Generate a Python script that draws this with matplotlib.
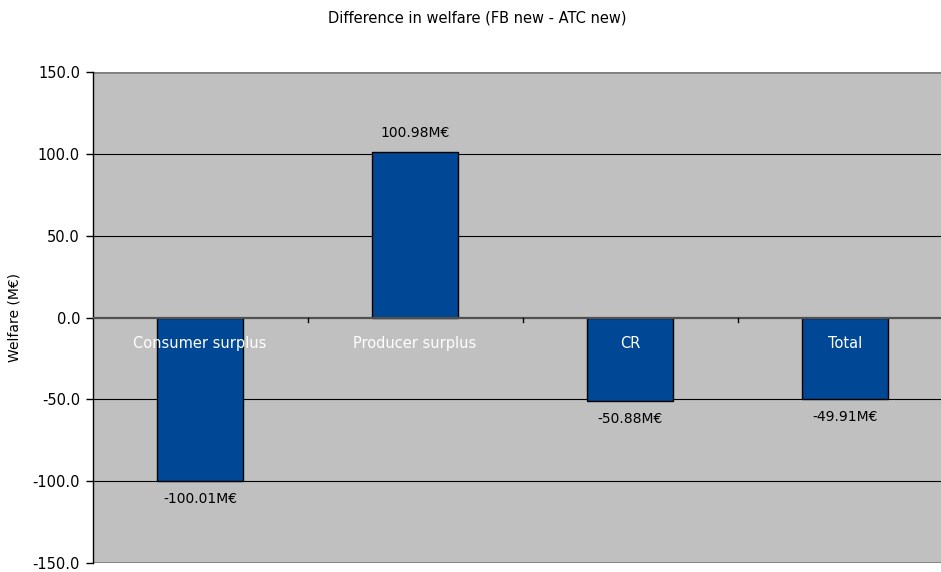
import matplotlib.pyplot as plt
import numpy as np

categories = ["Consumer surplus", "Producer surplus", "CR", "Total"]
values = [-100.01, 100.98, -50.88, -49.91]
yticks = [-150, -100, -50, 0, 50, 100, 150]

fig = plt.figure(figsize=(9.41, 5.72), dpi=100)
# plot area runs past the right edge of the image, as in the original
ax = fig.add_axes([92.5/941, 9/572, 860/941, 491/572])
ax.set_facecolor("#C0C0C0")

x = np.arange(len(categories))
ax.bar(x, values, width=0.4, color="#004795", edgecolor="black", linewidth=1, zorder=3)

ax.set_xlim(-0.5, len(categories) - 0.5)
ax.set_ylim(-150, 150)
ax.set_yticks(yticks)
ax.set_yticklabels(["%.1f" % v for v in yticks], fontsize=10.5)
ax.tick_params(axis="y", direction="out", length=5, width=1, pad=4)
ax.set_xticks([])

for v in [-100, -50, 50, 100]:
    ax.axhline(v, color="black", linewidth=0.8, zorder=1)
ax.axhline(150, color="#808080", linewidth=2, zorder=2)
ax.axhline(-150, color="#808080", linewidth=2, zorder=2)
ax.axhline(0, color="#505050", linewidth=1.6, zorder=4)
# small ticks on the zero line between categories
for b in x[:-1] + 0.5:
    ax.plot([b, b], [0, -3], color="black", linewidth=1, zorder=4)

for s in ["top", "right", "bottom"]:
    ax.spines[s].set_visible(False)
ax.spines["left"].set_color("black")
ax.spines["left"].set_linewidth(1)

for xi, name in zip(x, categories):
    ax.text(xi, -16, name, color="white", ha="center", va="center", fontsize=10.5, zorder=5)

for xi, v in zip(x, values):
    if v >= 0:
        ax.annotate("%.2fM€" % v, (xi, v), xytext=(0, 14), textcoords="offset points",
                    ha="center", va="center", fontsize=10)
    else:
        ax.annotate("%.2fM€" % v, (xi, v), xytext=(0, -13), textcoords="offset points",
                    ha="center", va="center", fontsize=10)

ax.set_ylabel("Welfare (M€)", fontsize=10, labelpad=8)
fig.text(477/941, 1 - 18/572, "Difference in welfare (FB new - ATC new)",
         ha="center", va="center", fontsize=10.5)

fig.savefig("out.png", dpi=100)
